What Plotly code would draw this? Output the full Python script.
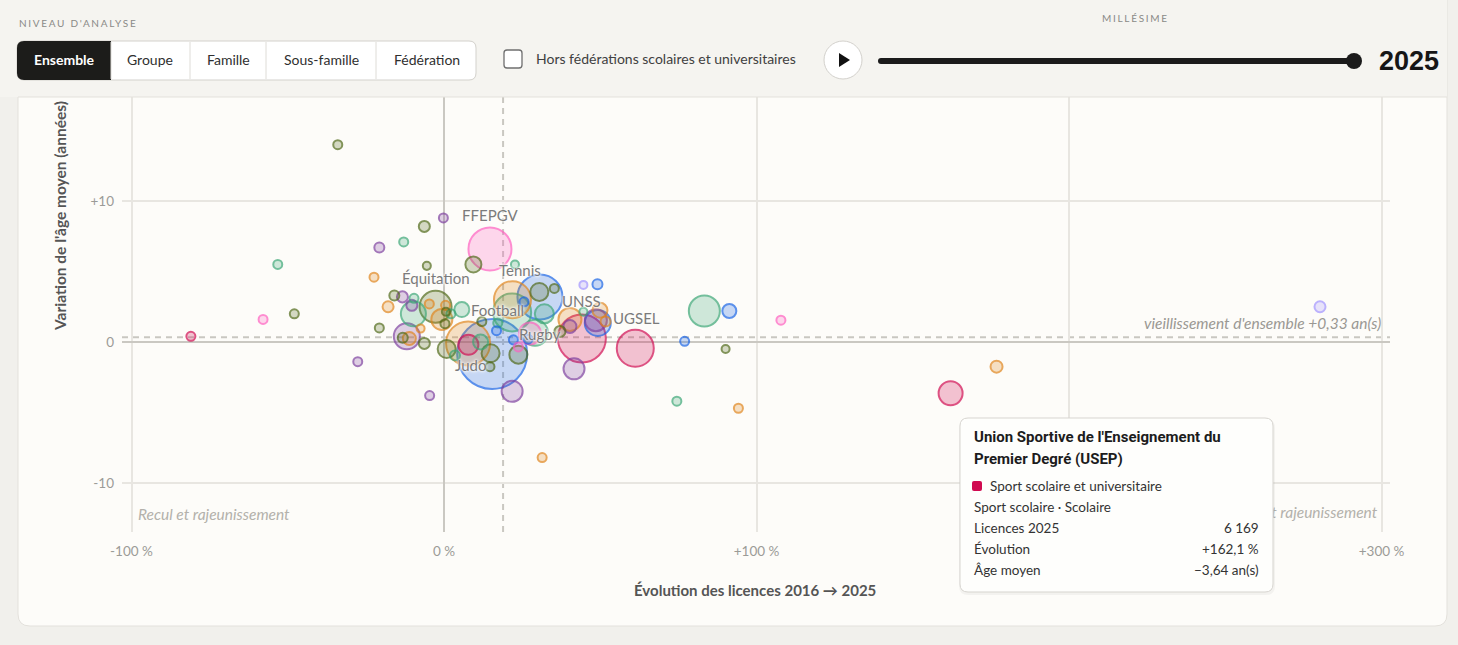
import plotly.graph_objects as go

# --- data ---------------------------------------------------------------
# groupe (colour key), évolution des licences 2016->2025 (%), variation de l'âge moyen (ans), licences 2025, sigle
groupe = [
    "olive", "purple", "olive", "green", "purple", "green", "olive", "orange", "olive", "pink",
    "crimson", "olive", "purple", "purple", "olive", "pink", "green", "purple", "orange",
    "olive", "purple", "green", "purple", "orange", "green", "olive", "orange", "orange", "olive",
    "orange", "olive", "green", "green", "purple", "olive", "orange", "orange", "olive", "olive", "green",
    "orange", "crimson", "green", "olive", "olive", "olive", "green", "blue", "blue", "orange",
    "green", "blue", "olive", "olive", "blue", "green", "pink", "blue", "blue", "pink",
    "olive", "green", "olive",
    "crimson", "crimson", "purple", "blue", "purple", "orange", "purple", "orange", "orange", "green",
    "lavender", "blue",
    "green", "blue", "pink", "blue", "olive", "green", "orange", "crimson", "orange", "lavender",
]
evolution = [
    -34.0, -0.2, -6.3, -12.9, -20.7, -53.2, -5.5, -22.4, -47.9, -57.9,
    -81.0, -20.7, -27.6, -4.6, 9.4, 14.7, 22.7, 21.8, 31.4,
    -15.9, -13.3, -9.6, -10.3, -17.9, -9.8, -2.7, -4.7, 0.5, 0.6,
    -0.7, 0.3, 2.2, 5.7, -11.9, -13.2, -11.1, -7.5, -6.3, 0.85, 3.5,
    7.7, 7.8, 11.7, 14.9, 14.7, 12.1, 17.2, 16.8, 15.4, 21.9,
    21.8, 30.7, 30.5, 35.3, 25.6, 32.1, 27.5, 22.2, 26.9, 23.8,
    23.8, 29.1, 37.1,
    44.1, 61.2, 41.6, 49.2, 48.6, 40.3, 40.3, 49.9, 51.7, 44.6,
    44.6, 49.1,
    83.3, 91.3, 107.8, 77.0, 90.1, 74.5, 94.2, 162.1, 176.8, 280.3,
]
age = [
    14.0, 8.8, 8.2, 7.1, 6.7, 5.5, 5.4, 4.6, 2.0, 1.6,
    0.4, 1.0, -1.4, -3.8, 5.5, 6.6, 5.5, -3.5, -8.2,
    3.3, 3.2, 3.1, 2.6, 2.5, 2.0, 2.5, 2.7, 2.6, 2.15,
    1.6, 1.3, 2.0, 2.3, 0.4, 0.3, 0.25, 0.95, -0.1, -0.5, -0.95,
    -0.1, -0.2, 0.0, -0.8, -1.75, 1.45, 1.35, 0.8, -0.85, 3.0,
    2.1, 3.2, 3.55, 3.8, 2.85, 2.0, 0.6, 0.15, 0.2, -0.35,
    -0.9, 0.65, 0.75,
    0.25, -0.45, -1.9, 1.35, 1.55, 1.6, 1.1, 2.25, 1.45, 2.15,
    4.05, 4.1,
    2.2, 2.2, 1.55, 0.05, -0.5, -4.2, -4.7, -3.64, -1.75, 2.5,
]
licences = [
    870, 860, 1300, 880, 1070, 860, 690, 870, 870, 860,
    870, 870, 860, 870, 2740, 19800, 690, 4720, 870,
    1070, 1300, 870, 1300, 1300, 6700, 10970, 870, 870, 690,
    4720, 870, 870, 2410, 7240, 1070, 1810, 690, 1300, 3470, 1070,
    20740, 4280, 2410, 3470, 870, 870, 870, 870, 52480, 14660,
    15470, 21690, 3470, 870, 870, 3870, 5180, 870, 870, 870,
    3470, 7240, 1300,
    24680, 14660, 4720, 7240, 5180, 5670, 1810, 2410, 1070, 690,
    690, 1070,
    10290, 2100, 870, 870, 690, 870, 870, 6169, 1540, 1300,
]
sigle = [""] * len(groupe)
sigle[15] = "FFEPGV"
sigle[25] = "Équitation"
sigle[40] = "Judo"
sigle[48] = "Football"
sigle[49] = "Tennis"
sigle[61] = "Rugby"
sigle[63] = "UNSS"
sigle[64] = "UGSEL"
sigle[82] = "USEP"

EVOL_ENSEMBLE = 18.9   # évolution d'ensemble des licences (%)
AGE_ENSEMBLE = 0.33    # vieillissement d'ensemble (ans)

# hovered federation (tooltip)
TIP_SIGLE = "USEP"
TIP_NOM = ["Union Sportive de l'Enseignement du", "Premier Degré (USEP)"]
TIP_GROUPE = "Sport scolaire et universitaire"
TIP_FAMILLE = "Sport scolaire · Scolaire"

# --- styles --------------------------------------------------------------
COLORS = {
    "olive": (78, 104, 22), "green": (58, 166, 117), "purple": (124, 62, 158),
    "orange": (224, 132, 26), "blue": (24, 99, 230), "pink": (255, 94, 192),
    "crimson": (208, 10, 80), "lavender": (160, 146, 255),
}
LABEL_SHIFT = {"FFEPGV": (0, 34), "Tennis": (8, 30), "Équitation": (0, 29), "Football": (5, 44),
               "UNSS": (0, 37), "UGSEL": (1, 30), "Rugby": (5, -1), "Judo": (2, -22)}
FONT = "Lato"
CARD = "#fdfcf9"

W, H = 1458, 645
ML, MR, MT, MB = 122, 68, 97, 113
PW, PH = W - ML - MR, H - MT - MB


def X(px):
    return (px - ML) / PW


def Y(py):
    return (H - MB - py) / PH


def rrect(x0, y0, x1, y1, r, top=True, bottom=True):
    rt = r if top else 0
    rb = r if bottom else 0
    pts = [f"M {X(x0 + rt)},{Y(y0)}", f"L {X(x1 - rt)},{Y(y0)}",
           f"Q {X(x1)},{Y(y0)} {X(x1)},{Y(y0 + rt)}", f"L {X(x1)},{Y(y1 - rb)}",
           f"Q {X(x1)},{Y(y1)} {X(x1 - rb)},{Y(y1)}", f"L {X(x0 + rb)},{Y(y1)}",
           f"Q {X(x0)},{Y(y1)} {X(x0)},{Y(y1 - rb)}", f"L {X(x0)},{Y(y0 + rt)}",
           f"Q {X(x0)},{Y(y0)} {X(x0 + rt)},{Y(y0)}", "Z"]
    return " ".join(pts)


def fr(v, dec, sign=True):
    s = f"{abs(v):,.{dec}f}".replace(",", "\u202f").replace(".", ",")
    if sign:
        s = ("+" if v >= 0 else "\u2212") + s
    return s


# --- figure --------------------------------------------------------------
order = sorted(range(len(groupe)), key=lambda i: -licences[i])
fill = [f"rgba({COLORS[groupe[i]][0]},{COLORS[groupe[i]][1]},{COLORS[groupe[i]][2]},0.34)" for i in order]
line = [f"rgb({COLORS[groupe[i]][0]},{COLORS[groupe[i]][1]},{COLORS[groupe[i]][2]})" for i in order]

fig = go.Figure()
fig.add_trace(go.Scatter(
    x=[evolution[i] for i in order],
    y=[age[i] for i in order],
    mode="markers",
    marker=dict(size=[licences[i] for i in order], sizemode="area",
                sizeref=2 * max(licences) / 70 ** 2,
                color=fill, line=dict(color=line, width=2)),
    hoverinfo="skip",
))
# quadrant label partly hidden by the tooltip
fig.add_trace(go.Scatter(
    x=[298.6], y=[-12.2], mode="text", text=["<i>Croissance et rajeunissement</i>"],
    textposition="middle left", textfont=dict(family=FONT, size=15.5, color="#b3b1ab"),
    hoverinfo="skip",
))

shapes = [
    dict(type="rect", xref="paper", yref="paper", x0=X(0), x1=X(W), y0=Y(H), y1=Y(0),
         fillcolor="#f1f0ec", line_width=0, layer="below"),
    dict(type="path", xref="paper", yref="paper", path=rrect(18, -20, 1447, 626, 12, top=False),
         fillcolor=CARD, line=dict(color="#e3e1dc", width=1), layer="below"),
    dict(type="line", xref="x", yref="paper", x0=EVOL_ENSEMBLE, x1=EVOL_ENSEMBLE, y0=0, y1=1,
         line=dict(color="#c9c7c1", width=2, dash="6px,5px"), layer="below"),
    dict(type="line", xref="paper", yref="y", x0=0, x1=1, y0=AGE_ENSEMBLE, y1=AGE_ENSEMBLE,
         line=dict(color="#c9c7c1", width=2, dash="6px,5px"), layer="below"),
    # header
    dict(type="rect", xref="paper", yref="paper", x0=X(0), x1=X(1447), y0=Y(97), y1=Y(-20),
         fillcolor="#f5f4f0", line_width=0, layer="above"),
    dict(type="line", xref="paper", yref="paper", x0=X(18), x1=X(1447), y0=Y(97), y1=Y(97),
         line=dict(color="#e3e1dc", width=1), layer="above"),
    dict(type="path", xref="paper", yref="paper", path=rrect(17, 41, 476, 80, 7),
         fillcolor="#ffffff", line=dict(color="#d3d1cc", width=1), layer="above"),
    dict(type="path", xref="paper", yref="paper",
         path=f"M {X(24)},{Y(41)} L {X(111)},{Y(41)} L {X(111)},{Y(80)} L {X(24)},{Y(80)} "
              f"Q {X(17)},{Y(80)} {X(17)},{Y(73)} L {X(17)},{Y(48)} Q {X(17)},{Y(41)} {X(24)},{Y(41)} Z",
         fillcolor="#1c1c1a", line_width=0, layer="above"),
    dict(type="path", xref="paper", yref="paper", path=rrect(504, 50, 522, 68, 3),
         fillcolor="#ffffff", line=dict(color="#6f6f6f", width=1.3), layer="above"),
    dict(type="circle", xref="paper", yref="paper", x0=X(824), x1=X(862), y0=Y(79), y1=Y(41),
         fillcolor="#ffffff", line=dict(color="#d3d1cc", width=1), layer="above"),
    dict(type="path", xref="paper", yref="paper",
         path=f"M {X(839)},{Y(53)} L {X(850)},{Y(60)} L {X(839)},{Y(67)} Z",
         fillcolor="#111111", line_width=0, layer="above"),
    dict(type="path", xref="paper", yref="paper", path=rrect(878, 58, 1358, 64, 3),
         fillcolor="#1b1b1b", line_width=0, layer="above"),
    dict(type="circle", xref="paper", yref="paper", x0=X(1346), x1=X(1362), y0=Y(69), y1=Y(53),
         fillcolor="#1b1b1b", line_width=0, layer="above"),
    # tooltip box (soft shadow + box)
    dict(type="path", xref="paper", yref="paper", path=rrect(959, 419, 1275, 595, 9),
         fillcolor="rgba(0,0,0,0.04)", line_width=0, layer="above"),
    dict(type="path", xref="paper", yref="paper", path=rrect(960, 418, 1273, 592, 8),
         fillcolor="#fefefc", line=dict(color="#d7d5d0", width=1), layer="above"),
]
for xd in (111, 190, 266, 376):
    shapes.append(dict(type="line", xref="paper", yref="paper", x0=X(xd), x1=X(xd), y0=Y(42), y1=Y(79),
                       line=dict(color="#dedcd7", width=1), layer="above"))

ti = sigle.index(TIP_SIGLE)
shapes.append(dict(type="path", xref="paper", yref="paper", path=rrect(972, 481, 982, 491, 2),
                   fillcolor="rgb({},{},{})".format(*COLORS[groupe[ti]]), line_width=0, layer="above"))

annotations = []


def txt(px, py, text, size=14, color="#333333", anchor="left", family=FONT, angle=0, **kw):
    annotations.append(dict(xref="paper", yref="paper", x=X(px), y=Y(py), text=text, showarrow=False,
                            xanchor=anchor, yanchor="middle", textangle=angle,
                            font=dict(family=family, size=size, color=color, **kw)))


# bubble labels
halo = f"0 0 2px {CARD}, 0 0 3px {CARD}, 0 0 4px {CARD}"
for i, s in enumerate(sigle):
    if s in LABEL_SHIFT:
        dx, dy = LABEL_SHIFT[s]
        annotations.append(dict(x=evolution[i], y=age[i], xref="x", yref="y", text=s, showarrow=False,
                                xshift=dx, yshift=dy,
                                font=dict(family=FONT, size=15, color="#7b7b7b", shadow=halo)))

# header texts
txt(17, 23, '<span style="letter-spacing:1.7px">NIVEAU D\'ANALYSE</span>', size=10, color="#8a8a87")
txt(1135, 18, '<span style="letter-spacing:1.7px">MILLÉSIME</span>', size=10, color="#8a8a87", anchor="center")
txt(64, 60, "<b>Ensemble</b>", size=14, color="#ffffff", anchor="center")
for cx, lab in ((150, "Groupe"), (228, "Famille"), (321, "Sous-famille"), (427, "Fédération")):
    txt(cx, 60, lab, size=14, color="#2f2f2f", anchor="center")
txt(534, 59, "Hors fédérations scolaires et universitaires", size=14, color="#404040")
txt(1377, 61, "<b>2025</b>", size=27, color="#161616", family="Liberation Sans")

# axis titles and notes
txt(755, 590, "<b>Évolution des licences 2016 → 2025</b>", size=15, color="#555555", anchor="center")
txt(60, 216, "<b>Variation de l'âge moyen (années)</b>", size=15.5, color="#555555", anchor="center", angle=-90)
txt(136, 514, "<i>Recul et rajeunissement</i>", size=15.5, color="#b3b1ab")
annotations.append(dict(xref="paper", yref="y", x=X(1383), y=AGE_ENSEMBLE, yshift=3,
                        text=f"<i>vieillissement d'ensemble {fr(AGE_ENSEMBLE, 2)} an(s)</i>",
                        showarrow=False, xanchor="right", yanchor="bottom",
                        font=dict(family=FONT, size=15.5, color="#9a9893")))

# tooltip texts
txt(972, 437, f"<b>{TIP_NOM[0]}</b>", size=15, color="#1c1c1c", family="Roboto")
txt(972, 459, f"<b>{TIP_NOM[1]}</b>", size=15, color="#1c1c1c", family="Roboto")
txt(988, 486, TIP_GROUPE, size=13.5, color="#333333")
txt(972, 507, TIP_FAMILLE, size=13.5, color="#333333")
rows = [("Licences 2025", fr(licences[ti], 0, sign=False)),
        ("Évolution", fr(evolution[ti], 1) + "\u00a0%"),
        ("Âge moyen", fr(age[ti], 2) + " an(s)")]
for k, (lab, val) in enumerate(rows):
    txt(972, 528 + 21 * k, lab, size=13.5, color="#333333")
    txt(1261, 528 + 21 * k, val, size=13.5, color="#333333", anchor="right")

axis_common = dict(showgrid=True, gridcolor="#e8e6e1", gridwidth=1.5, zeroline=True,
                   zerolinecolor="#cac8c2", zerolinewidth=2, showline=False, ticks="",
                   tickfont=dict(family=FONT, size=13.5, color="#9b9b97"), fixedrange=True)
fig.update_layout(
    width=W, height=H,
    margin=dict(l=ML, r=MR, t=MT, b=MB),
    paper_bgcolor="#f1f0ec", plot_bgcolor="rgba(0,0,0,0)",
    showlegend=False,
    font=dict(family=FONT),
    xaxis=dict(range=[-103.04, 302.7], tickvals=[-100, 0, 100, 200, 300],
               ticktext=["-100 %", "0 %", "+100 %", "+200 %", "+300 %"], ticklabelstandoff=9, **axis_common),
    yaxis=dict(range=[-13.48, 17.38], tickvals=[-10, 0, 10], ticktext=["-10", "0", "+10"],
               ticklabelstandoff=7, **axis_common),
    shapes=shapes,
    annotations=annotations,
)

fig.write_html("out.html", config={"displayModeBar": False},
               post_script="document.body.style.margin='0';")
